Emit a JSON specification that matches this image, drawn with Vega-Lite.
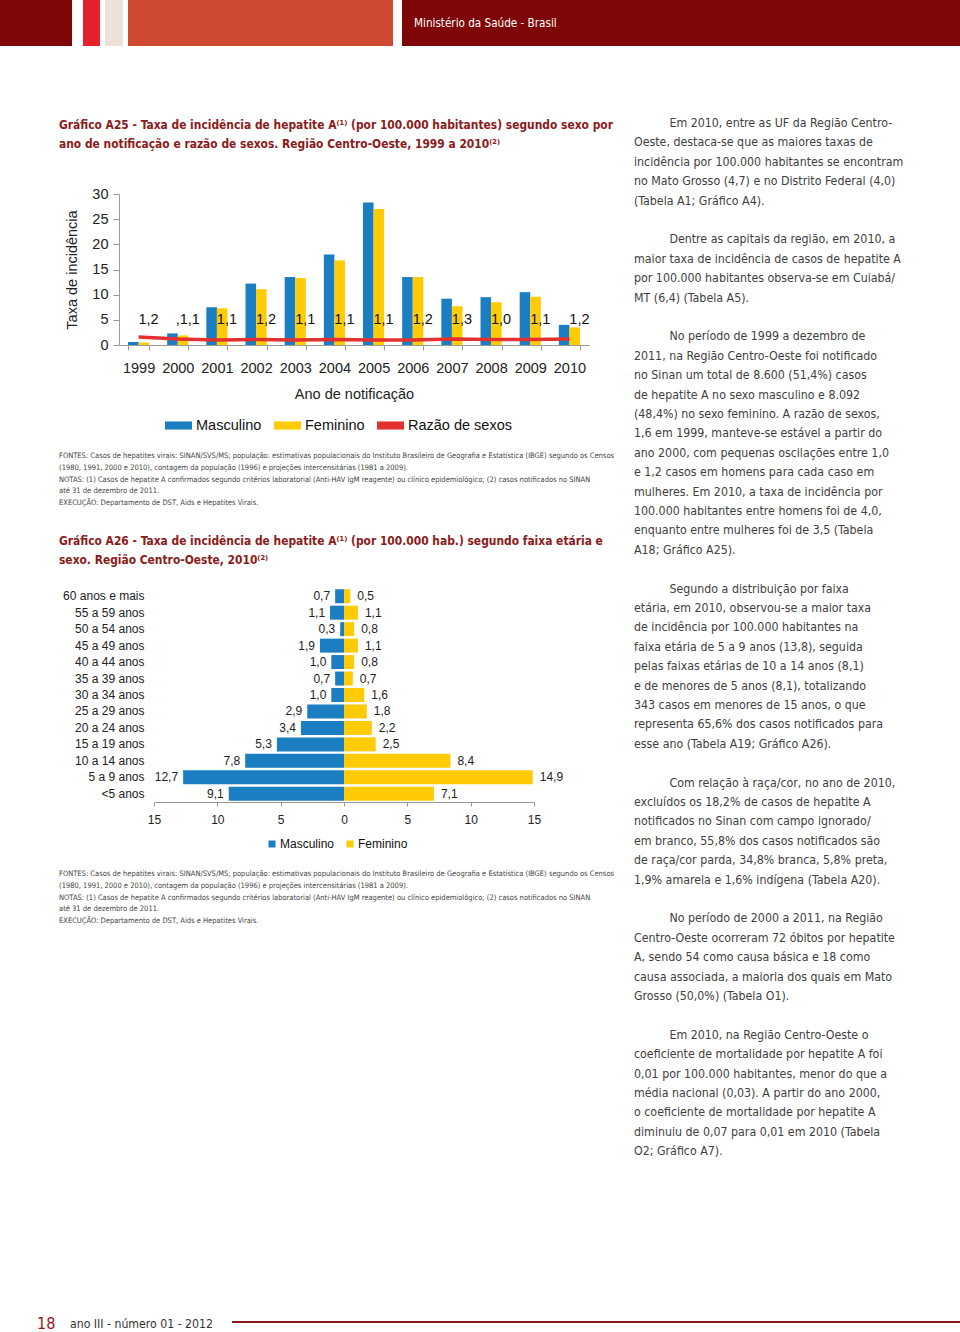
{
  "$schema": "https://vega.github.io/schema/vega-lite/v6.json",
  "padding": 0,
  "spacing": 0,
  "background": "white",
  "resolve": {"scale": {"color": "independent"}, "legend": {"color": "independent"}},
  "config": {
    "view": {"stroke": null},
    "font": "Liberation Sans, Arial, sans-serif",
    "locale": {"number": {"decimal": ",", "thousands": ".", "grouping": [3], "currency": ["R$", ""]}},
    "axis": {"grid": false, "labelFont": "Liberation Sans, Arial, sans-serif", "titleFont": "Liberation Sans, Arial, sans-serif"},
    "legend": {"labelFont": "Liberation Sans, Arial, sans-serif"},
    "title": {"font": "DejaVu Sans Condensed, Liberation Sans Narrow, sans-serif"}
  },
  "datasets": {
    "a25": [
      {"ano": "1999", "sexo": "Masculino", "taxa": 0.6}, {"ano": "1999", "sexo": "Feminino", "taxa": 0.5},
      {"ano": "2000", "sexo": "Masculino", "taxa": 2.3}, {"ano": "2000", "sexo": "Feminino", "taxa": 1.9},
      {"ano": "2001", "sexo": "Masculino", "taxa": 7.5}, {"ano": "2001", "sexo": "Feminino", "taxa": 7.3},
      {"ano": "2002", "sexo": "Masculino", "taxa": 12.2}, {"ano": "2002", "sexo": "Feminino", "taxa": 11.1},
      {"ano": "2003", "sexo": "Masculino", "taxa": 13.5}, {"ano": "2003", "sexo": "Feminino", "taxa": 13.3},
      {"ano": "2004", "sexo": "Masculino", "taxa": 18.0}, {"ano": "2004", "sexo": "Feminino", "taxa": 16.8},
      {"ano": "2005", "sexo": "Masculino", "taxa": 28.3}, {"ano": "2005", "sexo": "Feminino", "taxa": 27.0},
      {"ano": "2006", "sexo": "Masculino", "taxa": 13.5}, {"ano": "2006", "sexo": "Feminino", "taxa": 13.5},
      {"ano": "2007", "sexo": "Masculino", "taxa": 9.2}, {"ano": "2007", "sexo": "Feminino", "taxa": 7.7},
      {"ano": "2008", "sexo": "Masculino", "taxa": 9.5}, {"ano": "2008", "sexo": "Feminino", "taxa": 8.5},
      {"ano": "2009", "sexo": "Masculino", "taxa": 10.5}, {"ano": "2009", "sexo": "Feminino", "taxa": 9.6},
      {"ano": "2010", "sexo": "Masculino", "taxa": 4.0}, {"ano": "2010", "sexo": "Feminino", "taxa": 3.5}
    ],
    "a25r": [
      {"ano": "1999", "razao": 1.6, "rotulo": "1,2"},
      {"ano": "2000", "razao": 1.2, "rotulo": ",1,1"},
      {"ano": "2001", "razao": 1.0, "rotulo": "1,1"},
      {"ano": "2002", "razao": 1.1, "rotulo": "1,2"},
      {"ano": "2003", "razao": 1.0, "rotulo": "1,1"},
      {"ano": "2004", "razao": 1.1, "rotulo": "1,1"},
      {"ano": "2005", "razao": 1.0, "rotulo": "1,1"},
      {"ano": "2006", "razao": 1.0, "rotulo": "1,2"},
      {"ano": "2007", "razao": 1.2, "rotulo": "1,3"},
      {"ano": "2008", "razao": 1.1, "rotulo": "1,0"},
      {"ano": "2009", "razao": 1.1, "rotulo": "1,1"},
      {"ano": "2010", "razao": 1.2, "rotulo": "1,2"}
    ],
    "a26": [
      {"faixa": "60 anos e mais", "sexo": "Masculino", "taxa": 0.7}, {"faixa": "60 anos e mais", "sexo": "Feminino", "taxa": 0.5},
      {"faixa": "55 a 59 anos", "sexo": "Masculino", "taxa": 1.1}, {"faixa": "55 a 59 anos", "sexo": "Feminino", "taxa": 1.1},
      {"faixa": "50 a 54 anos", "sexo": "Masculino", "taxa": 0.3}, {"faixa": "50 a 54 anos", "sexo": "Feminino", "taxa": 0.8},
      {"faixa": "45 a 49 anos", "sexo": "Masculino", "taxa": 1.9}, {"faixa": "45 a 49 anos", "sexo": "Feminino", "taxa": 1.1},
      {"faixa": "40 a 44 anos", "sexo": "Masculino", "taxa": 1.0}, {"faixa": "40 a 44 anos", "sexo": "Feminino", "taxa": 0.8},
      {"faixa": "35 a 39 anos", "sexo": "Masculino", "taxa": 0.7}, {"faixa": "35 a 39 anos", "sexo": "Feminino", "taxa": 0.7},
      {"faixa": "30 a 34 anos", "sexo": "Masculino", "taxa": 1.0}, {"faixa": "30 a 34 anos", "sexo": "Feminino", "taxa": 1.6},
      {"faixa": "25 a 29 anos", "sexo": "Masculino", "taxa": 2.9}, {"faixa": "25 a 29 anos", "sexo": "Feminino", "taxa": 1.8},
      {"faixa": "20 a 24 anos", "sexo": "Masculino", "taxa": 3.4}, {"faixa": "20 a 24 anos", "sexo": "Feminino", "taxa": 2.2},
      {"faixa": "15 a 19 anos", "sexo": "Masculino", "taxa": 5.3}, {"faixa": "15 a 19 anos", "sexo": "Feminino", "taxa": 2.5},
      {"faixa": "10 a 14 anos", "sexo": "Masculino", "taxa": 7.8}, {"faixa": "10 a 14 anos", "sexo": "Feminino", "taxa": 8.4},
      {"faixa": "5 a 9 anos", "sexo": "Masculino", "taxa": 12.7}, {"faixa": "5 a 9 anos", "sexo": "Feminino", "taxa": 14.9},
      {"faixa": "<5 anos", "sexo": "Masculino", "taxa": 9.1}, {"faixa": "<5 anos", "sexo": "Feminino", "taxa": 7.1}
    ]
  },
  "vconcat": [
    {
      "spacing": 0,
      "bounds": "flush",
      "hconcat": [
        {"width": 72, "height": 46, "data": {"values": []}, "mark": "point", "view": {"fill": "#7E0606"}},
        {"width": 11, "height": 46, "data": {"values": []}, "mark": "point", "view": {"fill": "#ffffff"}},
        {"width": 17, "height": 46, "data": {"values": []}, "mark": "point", "view": {"fill": "#E3222B"}},
        {"width": 5, "height": 46, "data": {"values": []}, "mark": "point", "view": {"fill": "#ffffff"}},
        {"width": 18, "height": 46, "data": {"values": []}, "mark": "point", "view": {"fill": "#EDE1D9"}},
        {"width": 5, "height": 46, "data": {"values": []}, "mark": "point", "view": {"fill": "#ffffff"}},
        {"width": 265, "height": 46, "data": {"values": []}, "mark": "point", "view": {"fill": "#CE4832"}},
        {"width": 9, "height": 46, "data": {"values": []}, "mark": "point", "view": {"fill": "#ffffff"}},
        {
          "width": 558, "height": 46, "data": {"values": []}, "mark": "point", "view": {"fill": "#7E0606"},
          "title": {"text": "Ministério da Saúde - Brasil", "orient": "top", "anchor": "start", "frame": "group", "dx": 12, "offset": -36, "baseline": "middle", "fontSize": 11.6, "fontWeight": "normal", "color": "#ffffff", "font": "DejaVu Sans Condensed, Liberation Sans Narrow, sans-serif"}
        }
      ]
    },
    {
      "spacing": 0,
      "resolve": {"scale": {"color": "independent"}, "legend": {"color": "independent"}},
      "hconcat": [
        {
          "spacing": 0,
          "resolve": {"scale": {"color": "independent"}, "legend": {"color": "independent"}},
          "vconcat": [
            {"width": 634, "height": 72, "data": {"values": []}, "mark": "point"},
            {
              "spacing": 0,
              "bounds": "flush",
              "resolve": {"scale": {"color": "independent"}, "legend": {"color": "independent"}},
              "hconcat": [
                {"width": 119, "height": 151, "data": {"values": []}, "mark": "point"},
                {
                  "width": 470,
                  "height": 151,
                  "title": {
                    "text": ["Gráfico A25 - Taxa de incidência de hepatite A⁽¹⁾ (por 100.000 habitantes) segundo sexo por", "ano de notificação e razão de sexos. Região Centro-Oeste, 1999 a 2010⁽²⁾"],
                    "orient": "top", "anchor": "start", "frame": "group", "dx": -60, "offset": 35,
                    "fontSize": 11.9, "fontWeight": "bold", "color": "#8B1A1A", "lineHeight": 19.3,
                    "font": "DejaVu Sans Condensed, Liberation Sans Narrow, sans-serif"
                  },
                  "layer": [
                    {
                      "data": {"name": "a25"},
                      "mark": {"type": "bar"},
                      "encoding": {
                        "x": {
                          "field": "ano", "type": "ordinal",
                          "scale": {"paddingInner": 0.46, "paddingOuter": 0.23},
                          "axis": {"labelAngle": 0, "tickBand": "extent", "domainColor": "#9a9a9a", "tickColor": "#9a9a9a", "tickSize": 5, "labelFontSize": 14.5, "labelColor": "#222222", "labelPadding": 11, "title": "Ano de notificação", "titleFontSize": 14.5, "titleFontWeight": "normal", "titleColor": "#222222", "titlePadding": 13}
                        },
                        "xOffset": {"field": "sexo", "type": "nominal", "sort": ["Masculino", "Feminino"], "scale": {"paddingInner": 0, "paddingOuter": 0}},
                        "y": {
                          "field": "taxa", "type": "quantitative",
                          "scale": {"domain": [0, 30]},
                          "axis": {"values": [0, 5, 10, 15, 20, 25, 30], "tickCount": 7, "labelOverlap": false, "labelFlush": false, "domainColor": "#9a9a9a", "tickColor": "#9a9a9a", "tickSize": 6, "labelFontSize": 14.5, "labelColor": "#222222", "labelPadding": 5, "title": "Taxa de incidência", "titleFontSize": 14.5, "titleFontWeight": "normal", "titleColor": "#222222", "titlePadding": 12}
                        },
                        "color": {
                          "field": "sexo", "type": "nominal",
                          "scale": {"domain": ["Masculino", "Feminino", "Razão de sexos"], "range": ["#1B7EC2", "#FFCB05", "#E2312E"]},
                          "legend": {
                            "orient": "none", "legendX": 46, "legendY": 218, "direction": "horizontal", "title": null,
                            "labelFontSize": 14.5, "labelColor": "#111111", "labelOffset": 4, "columnPadding": 12,
                            "symbolSize": 729, "symbolType": "M-1,-0.3H1V0.3H-1Z", "symbolStrokeWidth": 0, "padding": 0
                          }
                        }
                      }
                    },
                    {
                      "data": {"name": "a25r"},
                      "mark": {"type": "line", "strokeWidth": 3.5},
                      "encoding": {
                        "x": {"field": "ano", "type": "ordinal"},
                        "y": {
                          "field": "razao", "type": "quantitative",
                          "axis": {"values": [0, 5, 10, 15, 20, 25, 30], "tickCount": 7, "labelOverlap": false, "labelFlush": false, "domainColor": "#9a9a9a", "tickColor": "#9a9a9a", "tickSize": 6, "labelFontSize": 14.5, "labelColor": "#222222", "labelPadding": 5, "title": "Taxa de incidência", "titleFontSize": 14.5, "titleFontWeight": "normal", "titleColor": "#222222", "titlePadding": 12}
                        },
                        "color": {"datum": "Razão de sexos"}
                      }
                    },
                    {
                      "data": {"name": "a25r"},
                      "mark": {"type": "text", "dx": 10, "fontSize": 14.5, "color": "#111111", "baseline": "middle"},
                      "encoding": {
                        "x": {"field": "ano", "type": "ordinal"},
                        "y": {
                          "datum": 5, "type": "quantitative",
                          "axis": {"values": [0, 5, 10, 15, 20, 25, 30], "tickCount": 7, "labelOverlap": false, "labelFlush": false, "domainColor": "#9a9a9a", "tickColor": "#9a9a9a", "tickSize": 6, "labelFontSize": 14.5, "labelColor": "#222222", "labelPadding": 5, "title": "Taxa de incidência", "titleFontSize": 14.5, "titleFontWeight": "normal", "titleColor": "#222222", "titlePadding": 12}
                        },
                        "text": {"field": "rotulo"}
                      }
                    }
                  ]
                }
              ]
            },
            {
              "width": 634, "height": 20, "data": {"values": []}, "mark": "point",
              "title": {
                "text": [
                  "FONTES: Casos de hepatites virais: SINAN/SVS/MS; população: estimativas populacionais do Instituto Brasileiro de Geografia e Estatística (IBGE) segundo os Censos",
                  "(1980, 1991, 2000 e 2010), contagem da população (1996) e projeções intercensitárias (1981 a 2009).",
                  "NOTAS:  (1) Casos de hepatite A confirmados segundo critérios laboratorial (Anti-HAV IgM reagente) ou clínico epidemiológico; (2) casos notificados no SINAN",
                  "até 31 de dezembro de 2011.",
                  "EXECUÇÃO: Departamento de DST, Aids e Hepatites Virais."
                ],
                "orient": "bottom", "anchor": "start", "frame": "group", "dx": 59, "offset": 0, "baseline": "top",
                "fontSize": 7.5, "fontWeight": "normal", "color": "#444444", "lineHeight": 11.8,
                "font": "DejaVu Sans Condensed, Liberation Sans Narrow, sans-serif"
              }
            },
            {"width": 634, "height": 27, "data": {"values": []}, "mark": "point"},
            {
              "spacing": 0,
              "bounds": "flush",
              "resolve": {"scale": {"color": "independent"}, "legend": {"color": "independent"}},
              "hconcat": [
                {"width": 154, "height": 214, "data": {"values": []}, "mark": "point"},
                {
                  "width": 380,
                  "height": 214,
                  "title": {
                    "text": ["Gráfico A26 - Taxa de incidência de hepatite A⁽¹⁾ (por 100.000 hab.) segundo faixa etária e", "sexo. Região Centro-Oeste, 2010⁽²⁾"],
                    "orient": "top", "anchor": "start", "frame": "group", "dx": -95, "offset": 21,
                    "fontSize": 11.9, "fontWeight": "bold", "color": "#8B1A1A", "lineHeight": 19.3,
                    "font": "DejaVu Sans Condensed, Liberation Sans Narrow, sans-serif"
                  },
                  "data": {"name": "a26"},
                  "encoding": {
                    "y": {
                      "field": "faixa", "type": "nominal",
                      "scale": {"domain": ["60 anos e mais", "55 a 59 anos", "50 a 54 anos", "45 a 49 anos", "40 a 44 anos", "35 a 39 anos", "30 a 34 anos", "25 a 29 anos", "20 a 24 anos", "15 a 19 anos", "10 a 14 anos", "5 a 9 anos", "<5 anos"], "paddingInner": 0.15, "paddingOuter": 0.075},
                      "axis": {"domain": false, "ticks": false, "labelFontSize": 12, "labelColor": "#222222", "labelPadding": 10, "title": null}
                    }
                  },
                  "layer": [
                    {
                      "transform": [{"filter": "datum.sexo === 'Masculino'"}],
                      "mark": {"type": "bar"},
                      "encoding": {
                        "x": {"field": "taxa", "type": "quantitative", "scale": {"domain": [-15, 15], "reverse": true}, "axis": null},
                        "color": {
                          "field": "sexo", "type": "nominal",
                          "scale": {"domain": ["Masculino", "Feminino"], "range": ["#1B7EC2", "#FFCB05"]},
                          "legend": {"orient": "none", "legendX": 112, "legendY": 250, "direction": "horizontal", "title": null, "labelFontSize": 12, "labelColor": "#111111", "labelOffset": 2, "columnPadding": 9, "symbolType": "square", "symbolSize": 49, "symbolStrokeWidth": 0, "padding": 0}
                        }
                      }
                    },
                    {
                      "transform": [{"filter": "datum.sexo === 'Masculino'"}],
                      "mark": {"type": "text", "align": "right", "dx": -5, "fontSize": 12, "color": "#222222", "baseline": "middle"},
                      "encoding": {
                        "x": {"field": "taxa", "type": "quantitative", "scale": {"domain": [-15, 15], "reverse": true}, "axis": null},
                        "text": {"field": "taxa", "type": "quantitative", "format": ".1f"}
                      }
                    },
                    {
                      "transform": [{"filter": "datum.sexo === 'Feminino'"}],
                      "mark": {"type": "bar"},
                      "encoding": {
                        "x": {
                          "field": "taxa", "type": "quantitative", "scale": {"domain": [-15, 15]},
                          "axis": {"values": [-15, -10, -5, 0, 5, 10, 15], "labelExpr": "format(abs(datum.value), 'd')", "labelFlush": false, "labelOverlap": false, "title": null, "domainColor": "#9a9a9a", "tickColor": "#9a9a9a", "tickSize": 4, "labelFontSize": 12, "labelColor": "#222222", "labelPadding": 8}
                        },
                        "color": {"field": "sexo", "type": "nominal"}
                      }
                    },
                    {
                      "transform": [{"filter": "datum.sexo === 'Feminino'"}],
                      "mark": {"type": "text", "align": "left", "dx": 7, "fontSize": 12, "color": "#222222", "baseline": "middle"},
                      "encoding": {
                        "x": {"field": "taxa", "type": "quantitative", "scale": {"domain": [-15, 15]}, "axis": null},
                        "text": {"field": "taxa", "type": "quantitative", "format": ".1f"}
                      }
                    }
                  ],
                  "resolve": {"scale": {"x": "independent"}, "axis": {"x": "independent"}}
                }
              ]
            },
            {
              "width": 634, "height": 20, "data": {"values": []}, "mark": "point",
              "title": {
                "text": [
                  "FONTES: Casos de hepatites virais: SINAN/SVS/MS; população: estimativas populacionais do Instituto Brasileiro de Geografia e Estatística (IBGE) segundo os Censos",
                  "(1980, 1991, 2000 e 2010), contagem da população (1996) e projeções intercensitárias (1981 a 2009).",
                  "NOTAS:  (1) Casos de hepatite A confirmados segundo critérios laboratorial (Anti-HAV IgM reagente) ou clínico epidemiológico; (2) casos notificados no SINAN",
                  "até 31 de dezembro de 2011.",
                  "EXECUÇÃO: Departamento de DST, Aids e Hepatites Virais."
                ],
                "orient": "bottom", "anchor": "start", "frame": "group", "dx": 59, "offset": 0, "baseline": "top",
                "fontSize": 7.5, "fontWeight": "normal", "color": "#444444", "lineHeight": 11.8,
                "font": "DejaVu Sans Condensed, Liberation Sans Narrow, sans-serif"
              }
            },
            {"width": 634, "height": 391, "data": {"values": []}, "mark": "point"}
          ]
        },
        {
          "width": 268, "height": 71, "data": {"values": []}, "mark": "point",
          "title": {
            "text": [
              "\u200b\u2003\u2003\u2003\u2009Em 2010, entre as UF da Região Centro-",
              "Oeste, destaca-se que as maiores taxas de",
              "incidência por 100.000 habitantes se encontram",
              "no Mato Grosso (4,7) e no Distrito Federal (4,0)",
              "(Tabela A1; Gráfico A4).",
              "\u2800",
              "\u200b\u2003\u2003\u2003\u2009Dentre as capitais da região, em 2010, a",
              "maior taxa de incidência de casos de hepatite A",
              "por 100.000 habitantes observa-se em Cuiabá/",
              "MT (6,4) (Tabela A5).",
              "\u2800",
              "\u200b\u2003\u2003\u2003\u2009No período de 1999 a dezembro de",
              "2011, na Região Centro-Oeste foi notificado",
              "no Sinan um total de 8.600 (51,4%) casos",
              "de hepatite A no sexo masculino e 8.092",
              "(48,4%) no sexo feminino. A razão de sexos,",
              "1,6 em 1999, manteve-se estável a partir do",
              "ano 2000, com pequenas oscilações entre 1,0",
              "e 1,2 casos em homens para cada caso em",
              "mulheres. Em 2010, a taxa de incidência por",
              "100.000 habitantes entre homens foi de 4,0,",
              "enquanto entre mulheres foi de 3,5 (Tabela",
              "A18; Gráfico A25).",
              "\u2800",
              "\u200b\u2003\u2003\u2003\u2009Segundo a distribuição por faixa",
              "etária, em 2010, observou-se a maior taxa",
              "de incidência por 100.000 habitantes na",
              "faixa etária de 5 a 9 anos (13,8), seguida",
              "pelas faixas etárias de 10 a 14 anos (8,1)",
              "e de menores de 5 anos (8,1), totalizando",
              "343 casos em menores de 15 anos, o que",
              "representa 65,6% dos casos notificados para",
              "esse ano (Tabela A19; Gráfico A26).",
              "\u2800",
              "\u200b\u2003\u2003\u2003\u2009Com relação à raça/cor, no ano de 2010,",
              "excluídos os 18,2% de casos de hepatite A",
              "notificados no Sinan com campo ignorado/",
              "em branco, 55,8% dos casos notificados são",
              "de raça/cor parda, 34,8% branca, 5,8% preta,",
              "1,9% amarela e 1,6% indígena (Tabela A20).",
              "\u2800",
              "\u200b\u2003\u2003\u2003\u2009No período de 2000 a 2011, na Região",
              "Centro-Oeste ocorreram 72 óbitos por hepatite",
              "A, sendo 54 como causa básica e 18 como",
              "causa associada, a maioria dos quais em Mato",
              "Grosso (50,0%) (Tabela O1).",
              "\u2800",
              "\u200b\u2003\u2003\u2003\u2009Em 2010, na Região Centro-Oeste o",
              "coeficiente de mortalidade por hepatite A foi",
              "0,01 por 100.000 habitantes, menor do que a",
              "média nacional (0,03). A partir do ano 2000,",
              "o coeficiente de mortalidade por hepatite A",
              "diminuiu de 0,07 para 0,01 em 2010 (Tabela",
              "O2; Gráfico A7)."
            ],
            "orient": "bottom", "anchor": "start", "frame": "group", "offset": 0, "baseline": "top",
            "fontSize": 12.3, "fontWeight": "normal", "color": "#404040", "lineHeight": 19.4,
            "font": "DejaVu Sans Condensed, Liberation Sans Narrow, sans-serif"
          }
        }
      ]
    },
    {
      "spacing": 0,
      "bounds": "flush",
      "hconcat": [
        {
          "width": 70, "height": 2, "data": {"values": []}, "mark": "point",
          "title": {"text": "18", "orient": "top", "anchor": "start", "frame": "group", "dx": 37, "offset": -19, "baseline": "middle", "fontSize": 16, "fontWeight": "normal", "color": "#8B1A1A", "font": "DejaVu Sans Condensed, Liberation Sans Narrow, sans-serif"}
        },
        {
          "width": 162, "height": 2, "data": {"values": []}, "mark": "point",
          "title": {"text": "ano III - número 01 - 2012", "orient": "top", "anchor": "start", "frame": "group", "offset": -15, "baseline": "middle", "fontSize": 12.2, "fontWeight": "normal", "color": "#333333", "font": "DejaVu Sans Condensed, Liberation Sans Narrow, sans-serif"}
        },
        {"width": 728, "height": 2, "data": {"values": []}, "mark": "point", "view": {"fill": "#8B1A1A"}}
      ]
    }
  ]
}
